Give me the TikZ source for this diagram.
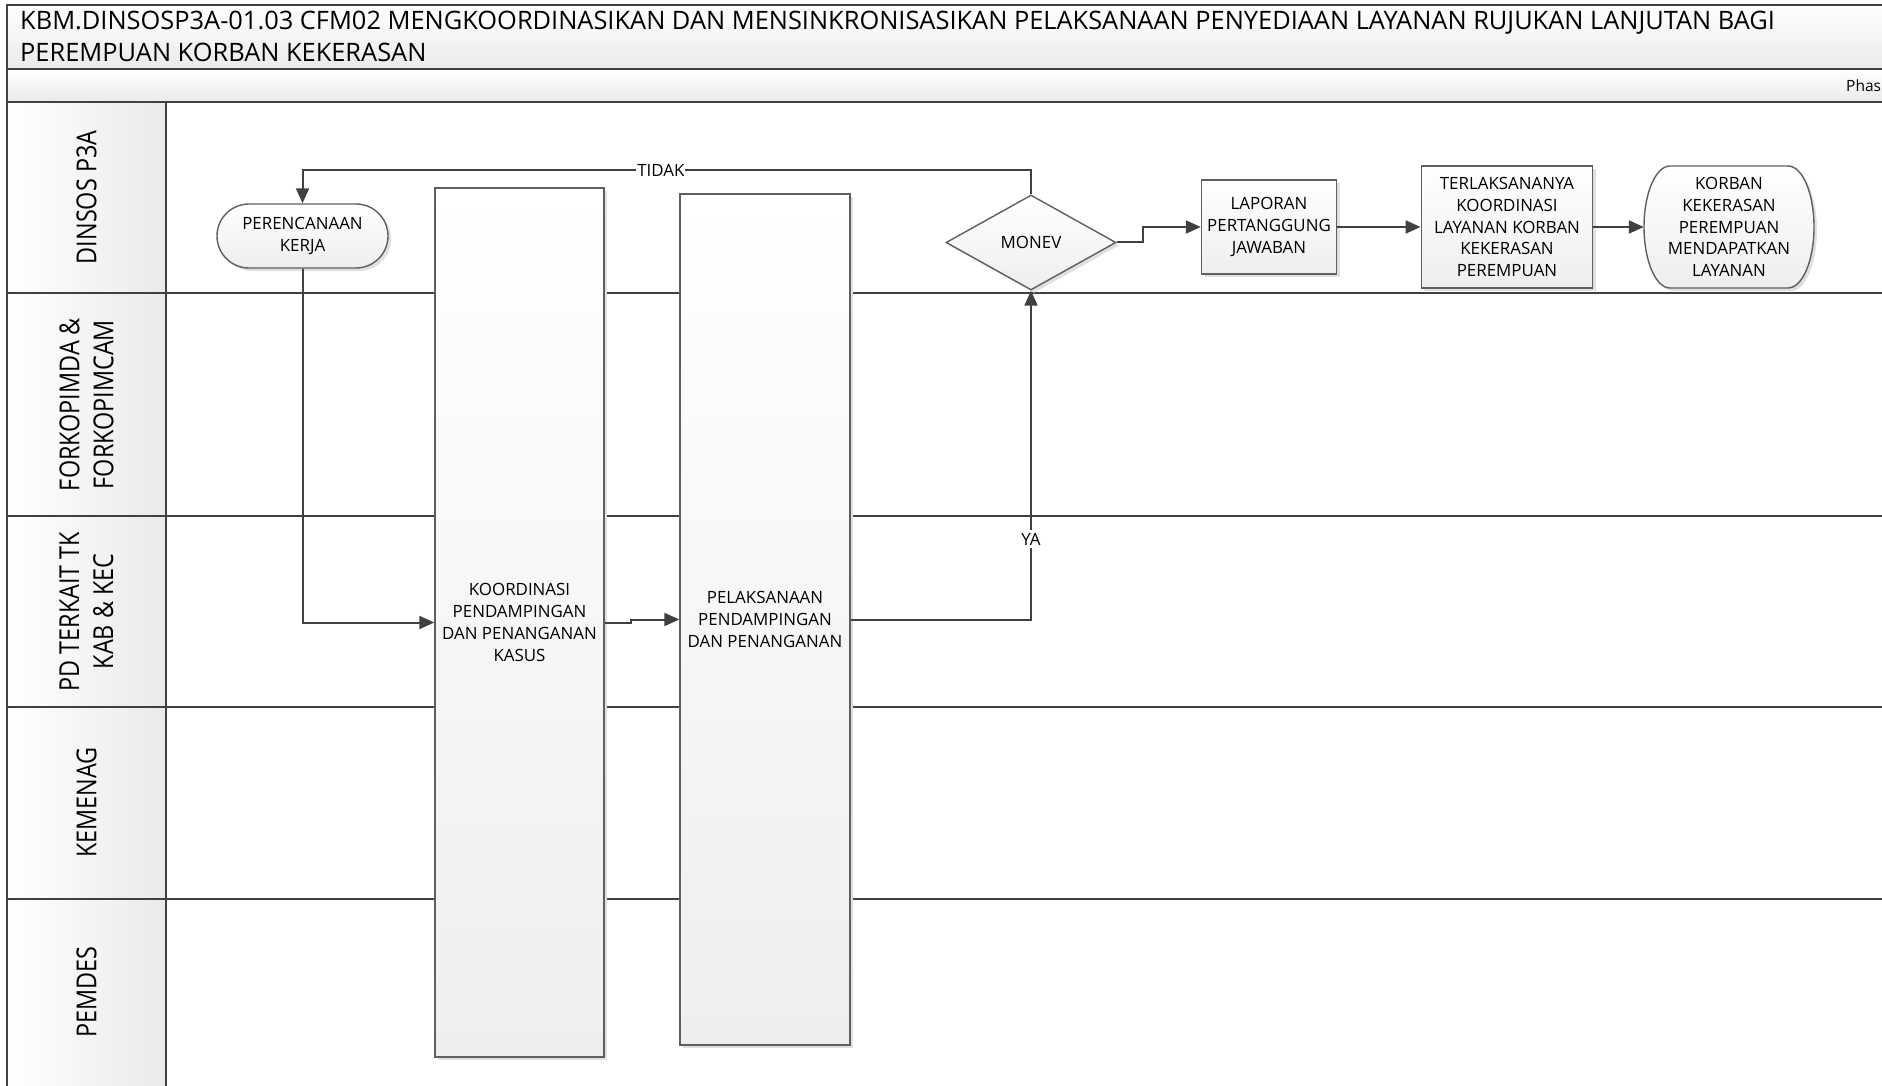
\documentclass[tikz,border=0pt]{standalone}
\usepackage{fontspec}
\setmainfont{Open Sans}
\newfontfamily\lanefont[FakeStretch=0.85]{Open Sans}
\usepackage{tikz}
\usetikzlibrary{arrows.meta, positioning, shapes.geometric, shadows}
\definecolor{linegray}{RGB}{64,64,64}
\definecolor{edgegray}{RGB}{95,95,95}
\definecolor{fillgray}{RGB}{238,238,238}
\definecolor{headgray}{RGB}{234,234,234}

\begin{document}
\begin{tikzpicture}[
    x=1pt, y=-1pt,
    frame_line/.style={draw=linegray, line width=2pt, top color=white, bottom color=headgray},
    lane_head/.style={draw=linegray, line width=2pt, left color=white, right color=headgray},
    lane_body/.style={draw=linegray, line width=2pt, fill=white},
    lane_label/.style={rotate=90, align=center, font=\lanefont\fontsize{27.5}{34}\selectfont},
    title_text/.style={anchor=base west, inner sep=0pt, font=\fontsize{25.4}{30}\selectfont},
    box_look/.style={draw=edgegray, line width=1.4pt, top color=white, bottom color=fillgray, drop shadow={shadow xshift=3pt, shadow yshift=-3pt, fill=black!12, opacity=1}},
    box_text/.style={align=center, inner sep=2pt, font=\fontsize{16.9}{21.7}\selectfont},
    proc_box/.style={box_look, box_text},
    term_box/.style={proc_box, rounded corners=32pt},
    dec_box/.style={proc_box, diamond, inner sep=0pt},
    flow_arrow/.style={-{Triangle[length=15pt, width=13pt]}, line width=2pt, draw=linegray},
    edge_label/.style={fill=white, inner sep=2pt, font=\fontsize{16.9}{19}\selectfont}
]
    \useasboundingbox (0,0) rectangle (1882,1086);
    \clip (0,0) rectangle (1882,1086);

    % Title and phase bar
    \draw[frame_line] (7,5) rectangle (1900,69.3);
    \node[title_text] (title_a) at (20,30) {KBM.DINSOSP3A-01.03 CFM02 MENGKOORDINASIKAN DAN MENSINKRONISASIKAN PELAKSANAAN PENYEDIAAN LAYANAN RUJUKAN LANJUTAN BAGI};
    \node[title_text] (title_b) at (20,62) {PEREMPUAN KORBAN KEKERASAN};
    \draw[frame_line] (7,69.3) rectangle (1900,101.7);
    \node[anchor=base west, inner sep=0pt, font=\fontsize{15.5}{18}\selectfont] (phase) at (1846,92) {Phas};

    % Swimlanes
    \draw[lane_body] (166,101.7) rectangle (1900,293);
    \draw[lane_body] (166,293) rectangle (1900,516);
    \draw[lane_body] (166,516) rectangle (1900,707);
    \draw[lane_body] (166,707) rectangle (1900,898.5);
    \draw[lane_body] (166,898.5) rectangle (1900,1100);
    \draw[lane_head] (7,101.7) rectangle (166,293);
    \draw[lane_head] (7,293) rectangle (166,516);
    \draw[lane_head] (7,516) rectangle (166,707);
    \draw[lane_head] (7,707) rectangle (166,898.5);
    \draw[lane_head] (7,898.5) rectangle (166,1100);
    \node[lane_label] (lane_dinsos) at (86.5,197.4) {DINSOS P3A};
    \node[lane_label] (lane_forkopimda) at (86.5,404.5) {FORKOPIMDA \&\\FORKOPIMCAM};
    \node[lane_label] (lane_pd) at (86.5,611.5) {PD TERKAIT TK\\KAB \& KEC};
    \node[lane_label] (lane_kemenag) at (86.5,802.7) {KEMENAG};
    \node[lane_label] (lane_pemdes) at (86.5,992) {PEMDES};

    % Process steps
    \node[term_box, minimum width=171pt, minimum height=64pt] (plan_node) at (302.5,236) {PERENCANAAN\\KERJA};
    \node[proc_box, minimum width=169pt, minimum height=869pt] (koord_box) at (519.5,622.5) {KOORDINASI\\PENDAMPINGAN\\DAN PENANGANAN\\KASUS};
    \node[proc_box, minimum width=170pt, minimum height=851pt] (laksana_box) at (765,619.5) {PELAKSANAAN\\PENDAMPINGAN\\DAN PENANGANAN};
    \node[dec_box, minimum width=170pt, minimum height=95pt] (monev_dec) at (1031,242.5) {MONEV};
    \node[proc_box, minimum width=135pt, minimum height=94pt] (lapor_box) at (1269,227) {LAPORAN\\PERTANGGUNG\\JAWABAN};
    \node[proc_box, minimum width=171.5pt, minimum height=121.7pt] (hasil_box) at (1507,227) {TERLAKSANANYA\\KOORDINASI\\LAYANAN KORBAN\\KEKERASAN\\PEREMPUAN};

    % End terminator with elliptical ends
    \draw[box_look] (1670,166) -- (1788,166)
        arc[start angle=90, end angle=-90, x radius=26pt, y radius=61pt]
        -- (1670,288)
        arc[start angle=270, end angle=90, x radius=26pt, y radius=61pt] -- cycle;
    \node[box_text, minimum width=170pt, minimum height=122pt] (korban_end) at (1729,227) {KORBAN\\KEKERASAN\\PEREMPUAN\\MENDAPATKAN\\LAYANAN};

    % Connectors
    \draw[flow_arrow] (plan_node.south) |- (koord_box.west);
    \draw[flow_arrow] (koord_box.east) -- ++(26,0) |- (laksana_box.west);
    \draw[flow_arrow] (laksana_box.east) -| (monev_dec.south)
        node[edge_label, inner sep=3pt, pos=0.622] (ya_label) {YA};
    \draw[flow_arrow] (monev_dec.north) -- ++(0,-24) -| (plan_node.north)
        node[edge_label, inner sep=1pt, pos=0.254] (tidak_label) {TIDAK};
    \draw[flow_arrow] (monev_dec.east) -- ++(26,0) |- (lapor_box.west);
    \draw[flow_arrow] (lapor_box) -- (hasil_box);
    \draw[flow_arrow] (hasil_box) -- (korban_end);

\end{tikzpicture}
\end{document}
